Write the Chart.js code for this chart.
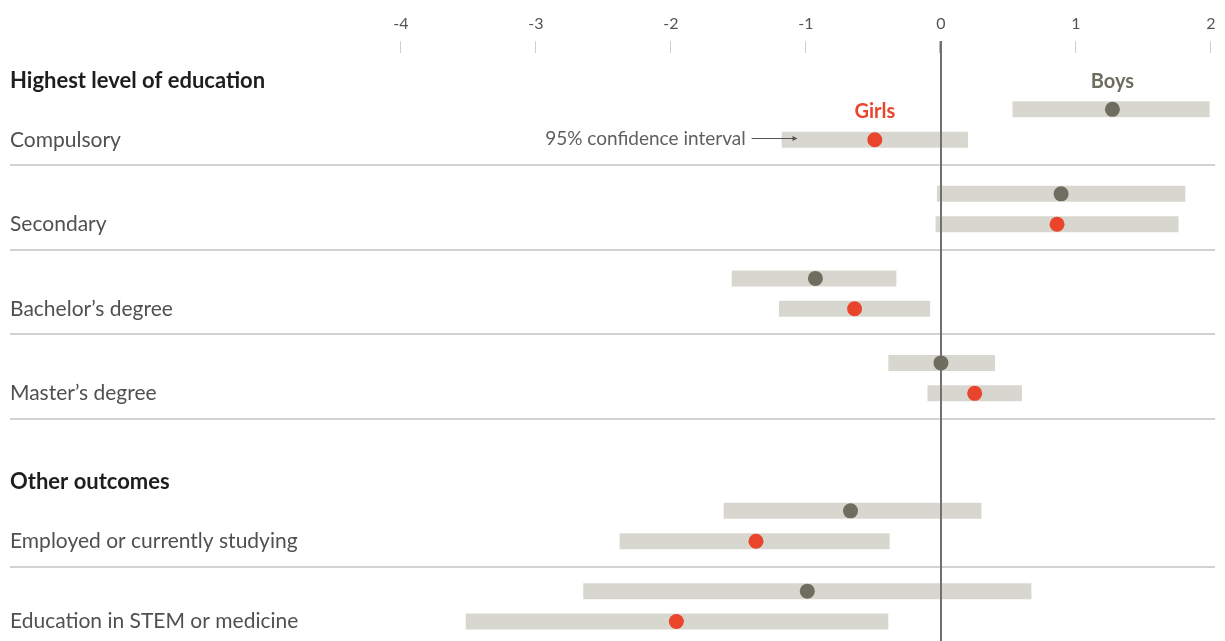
<!DOCTYPE html>
<html>
<head>
<meta charset="utf-8">
<script src="https://cdn.jsdelivr.net/npm/chart.js@4"></script>
<style>
  html, body { margin: 0; padding: 0; background: #fff; overflow: hidden; }
  canvas { display: block; }
</style>
</head>
<body>
<canvas id="chart" width="1225" height="641"></canvas>
<script>
// Data
const categories = ['Compulsory', 'Secondary', 'Bachelor\u2019s degree', 'Master\u2019s degree',
  'Employed or currently studying', 'Education in STEM or medicine'];
const sections = ['Highest level of education', null, null, null, 'Other outcomes', null];

const boysMid  = [1.27, 0.89, -0.93, 0.00, -0.67, -0.99];
const boysLow  = [0.53, -0.03, -1.55, -0.39, -1.61, -2.65];
const boysHigh = [1.99, 1.81, -0.33, 0.40, 0.30, 0.67];

const girlsMid  = [-0.49, 0.86, -0.64, 0.25, -1.37, -1.96];
const girlsLow  = [-1.18, -0.04, -1.20, -0.10, -2.38, -3.52];
const girlsHigh = [0.20, 1.76, -0.08, 0.60, -0.38, -0.39];

const xTicks = [-4, -3, -2, -1, 0, 1, 2];

// Layout: row slot for each category (extra gap before the second section)
const slots = [0, 1, 2, 3, 4.75, 5.7];
const pairOffset = 0.18;

const FONT = 'Lato, "Open Sans", sans-serif';
const BAR = '#d8d7cf';
const BOYS = '#6e6d60';
const GIRLS = '#e8452c';

const boyPos = slots.map(s => s - pairOffset);
const girlPos = slots.map(s => s + pairOffset);

const annotations = {
  id: 'annotations',
  afterDatasetDraw(chart, args) {
    if (args.meta.type !== 'bar') return;
    // zero line over the bars, under the dots
    const { ctx, chartArea, scales: { x } } = chart;
    const x0 = Math.round(x.getPixelForValue(0));
    ctx.save();
    ctx.strokeStyle = '#707070';
    ctx.lineWidth = 2;
    ctx.beginPath();
    ctx.moveTo(x0, chartArea.top - 12);
    ctx.lineTo(x0, chartArea.bottom);
    ctx.stroke();
    ctx.restore();
  },
  beforeDatasetsDraw(chart) {
    const { ctx, scales: { y } } = chart;
    ctx.save();
    ctx.strokeStyle = '#d2d2d2';
    ctx.lineWidth = 2;
    slots.forEach((s, i) => {
      if (i === slots.length - 1) return;
      const py = Math.round(y.getPixelForValue(s + 0.48));
      ctx.beginPath();
      ctx.moveTo(10, py);
      ctx.lineTo(1215, py);
      ctx.stroke();
    });
    ctx.restore();
  },
  afterDraw(chart) {
    const { ctx, scales: { x, y } } = chart;
    ctx.save();
    ctx.textBaseline = 'middle';
    ctx.textAlign = 'left';

    // section headers and row labels
    slots.forEach((s, i) => {
      if (sections[i]) {
        ctx.font = 'bold 22px ' + FONT;
        ctx.fillStyle = '#1e1e1e';
        ctx.fillText(sections[i], 10, y.getPixelForValue(s - 0.52));
      }
      ctx.font = '21px ' + FONT;
      ctx.fillStyle = '#505050';
      ctx.fillText(categories[i], 10, y.getPixelForValue(girlPos[i]));
    });

    // series labels
    ctx.textAlign = 'center';
    ctx.font = 'bold 20px ' + FONT;
    ctx.fillStyle = GIRLS;
    ctx.fillText('Girls', x.getPixelForValue(girlsMid[0]), y.getPixelForValue(girlPos[0] - 0.33));
    ctx.fillStyle = BOYS;
    ctx.fillText('Boys', x.getPixelForValue(boysMid[0]), y.getPixelForValue(boyPos[0] - 0.33));

    // confidence interval pointer
    const ly = Math.round(y.getPixelForValue(girlPos[0])) - 1.5;
    const tip = x.getPixelForValue(girlsLow[0] + 0.11);
    const start = x.getPixelForValue(girlsLow[0]) - 30;
    ctx.textAlign = 'right';
    ctx.font = '19px ' + FONT;
    ctx.fillStyle = '#606060';
    ctx.fillText('95% confidence interval', start - 6, ly);
    ctx.strokeStyle = '#555';
    ctx.lineWidth = 1.2;
    ctx.beginPath();
    ctx.moveTo(start, ly);
    ctx.lineTo(tip, ly);
    ctx.stroke();
    ctx.fillStyle = '#555';
    ctx.beginPath();
    ctx.moveTo(tip + 1, ly);
    ctx.lineTo(tip - 4, ly - 2.5);
    ctx.lineTo(tip - 4, ly + 2.5);
    ctx.closePath();
    ctx.fill();
    ctx.restore();
  }
};

new Chart(document.getElementById('chart'), {
  type: 'scatter',
  data: {
    datasets: [
      {
        type: 'bar',
        label: 'Boys interval',
        indexAxis: 'y',
        data: boysLow.map((lo, i) => ({ x: [lo, boysHigh[i]], y: boyPos[i] })),
        backgroundColor: BAR,
        grouped: false,
        maxBarThickness: 16,
        order: 2
      },
      {
        type: 'bar',
        label: 'Girls interval',
        indexAxis: 'y',
        data: girlsLow.map((lo, i) => ({ x: [lo, girlsHigh[i]], y: girlPos[i] })),
        backgroundColor: BAR,
        grouped: false,
        maxBarThickness: 16,
        order: 2
      },
      {
        label: 'Boys',
        data: boysMid.map((v, i) => ({ x: v, y: boyPos[i] })),
        backgroundColor: BOYS,
        borderWidth: 0,
        pointRadius: 7.5,
        order: 1
      },
      {
        label: 'Girls',
        data: girlsMid.map((v, i) => ({ x: v, y: girlPos[i] })),
        backgroundColor: GIRLS,
        borderWidth: 0,
        pointRadius: 7.5,
        order: 1
      }
    ]
  },
  options: {
    responsive: false,
    animation: false,
    layout: { autoPadding: false, padding: { top: 6, left: 0, right: 0, bottom: 0 } },
    plugins: { legend: { display: false }, tooltip: { enabled: false } },
    scales: {
      x: {
        type: 'linear',
        position: 'top',
        offset: false,
        min: -6.97,
        max: 2.104,
        afterBuildTicks: (scale) => { scale.ticks = xTicks.map(v => ({ value: v })); },
        ticks: {
          color: '#555',
          font: { family: FONT, size: 16 },
          padding: 8,
          autoSkip: false,
          maxRotation: 0
        },
        grid: {
          drawOnChartArea: false,
          tickLength: 12,
          tickColor: (c) => c.tick && c.tick.value === 0 ? '#707070' : '#cfcfcf',
          tickWidth: (c) => c.tick && c.tick.value === 0 ? 2 : 1
        },
        border: { display: false }
      },
      y: {
        type: 'linear',
        display: false,
        offset: false,
        reverse: true,
        min: -0.844,
        max: 6.11
      }
    }
  },
  plugins: [annotations]
});
</script>
</body>
</html>
